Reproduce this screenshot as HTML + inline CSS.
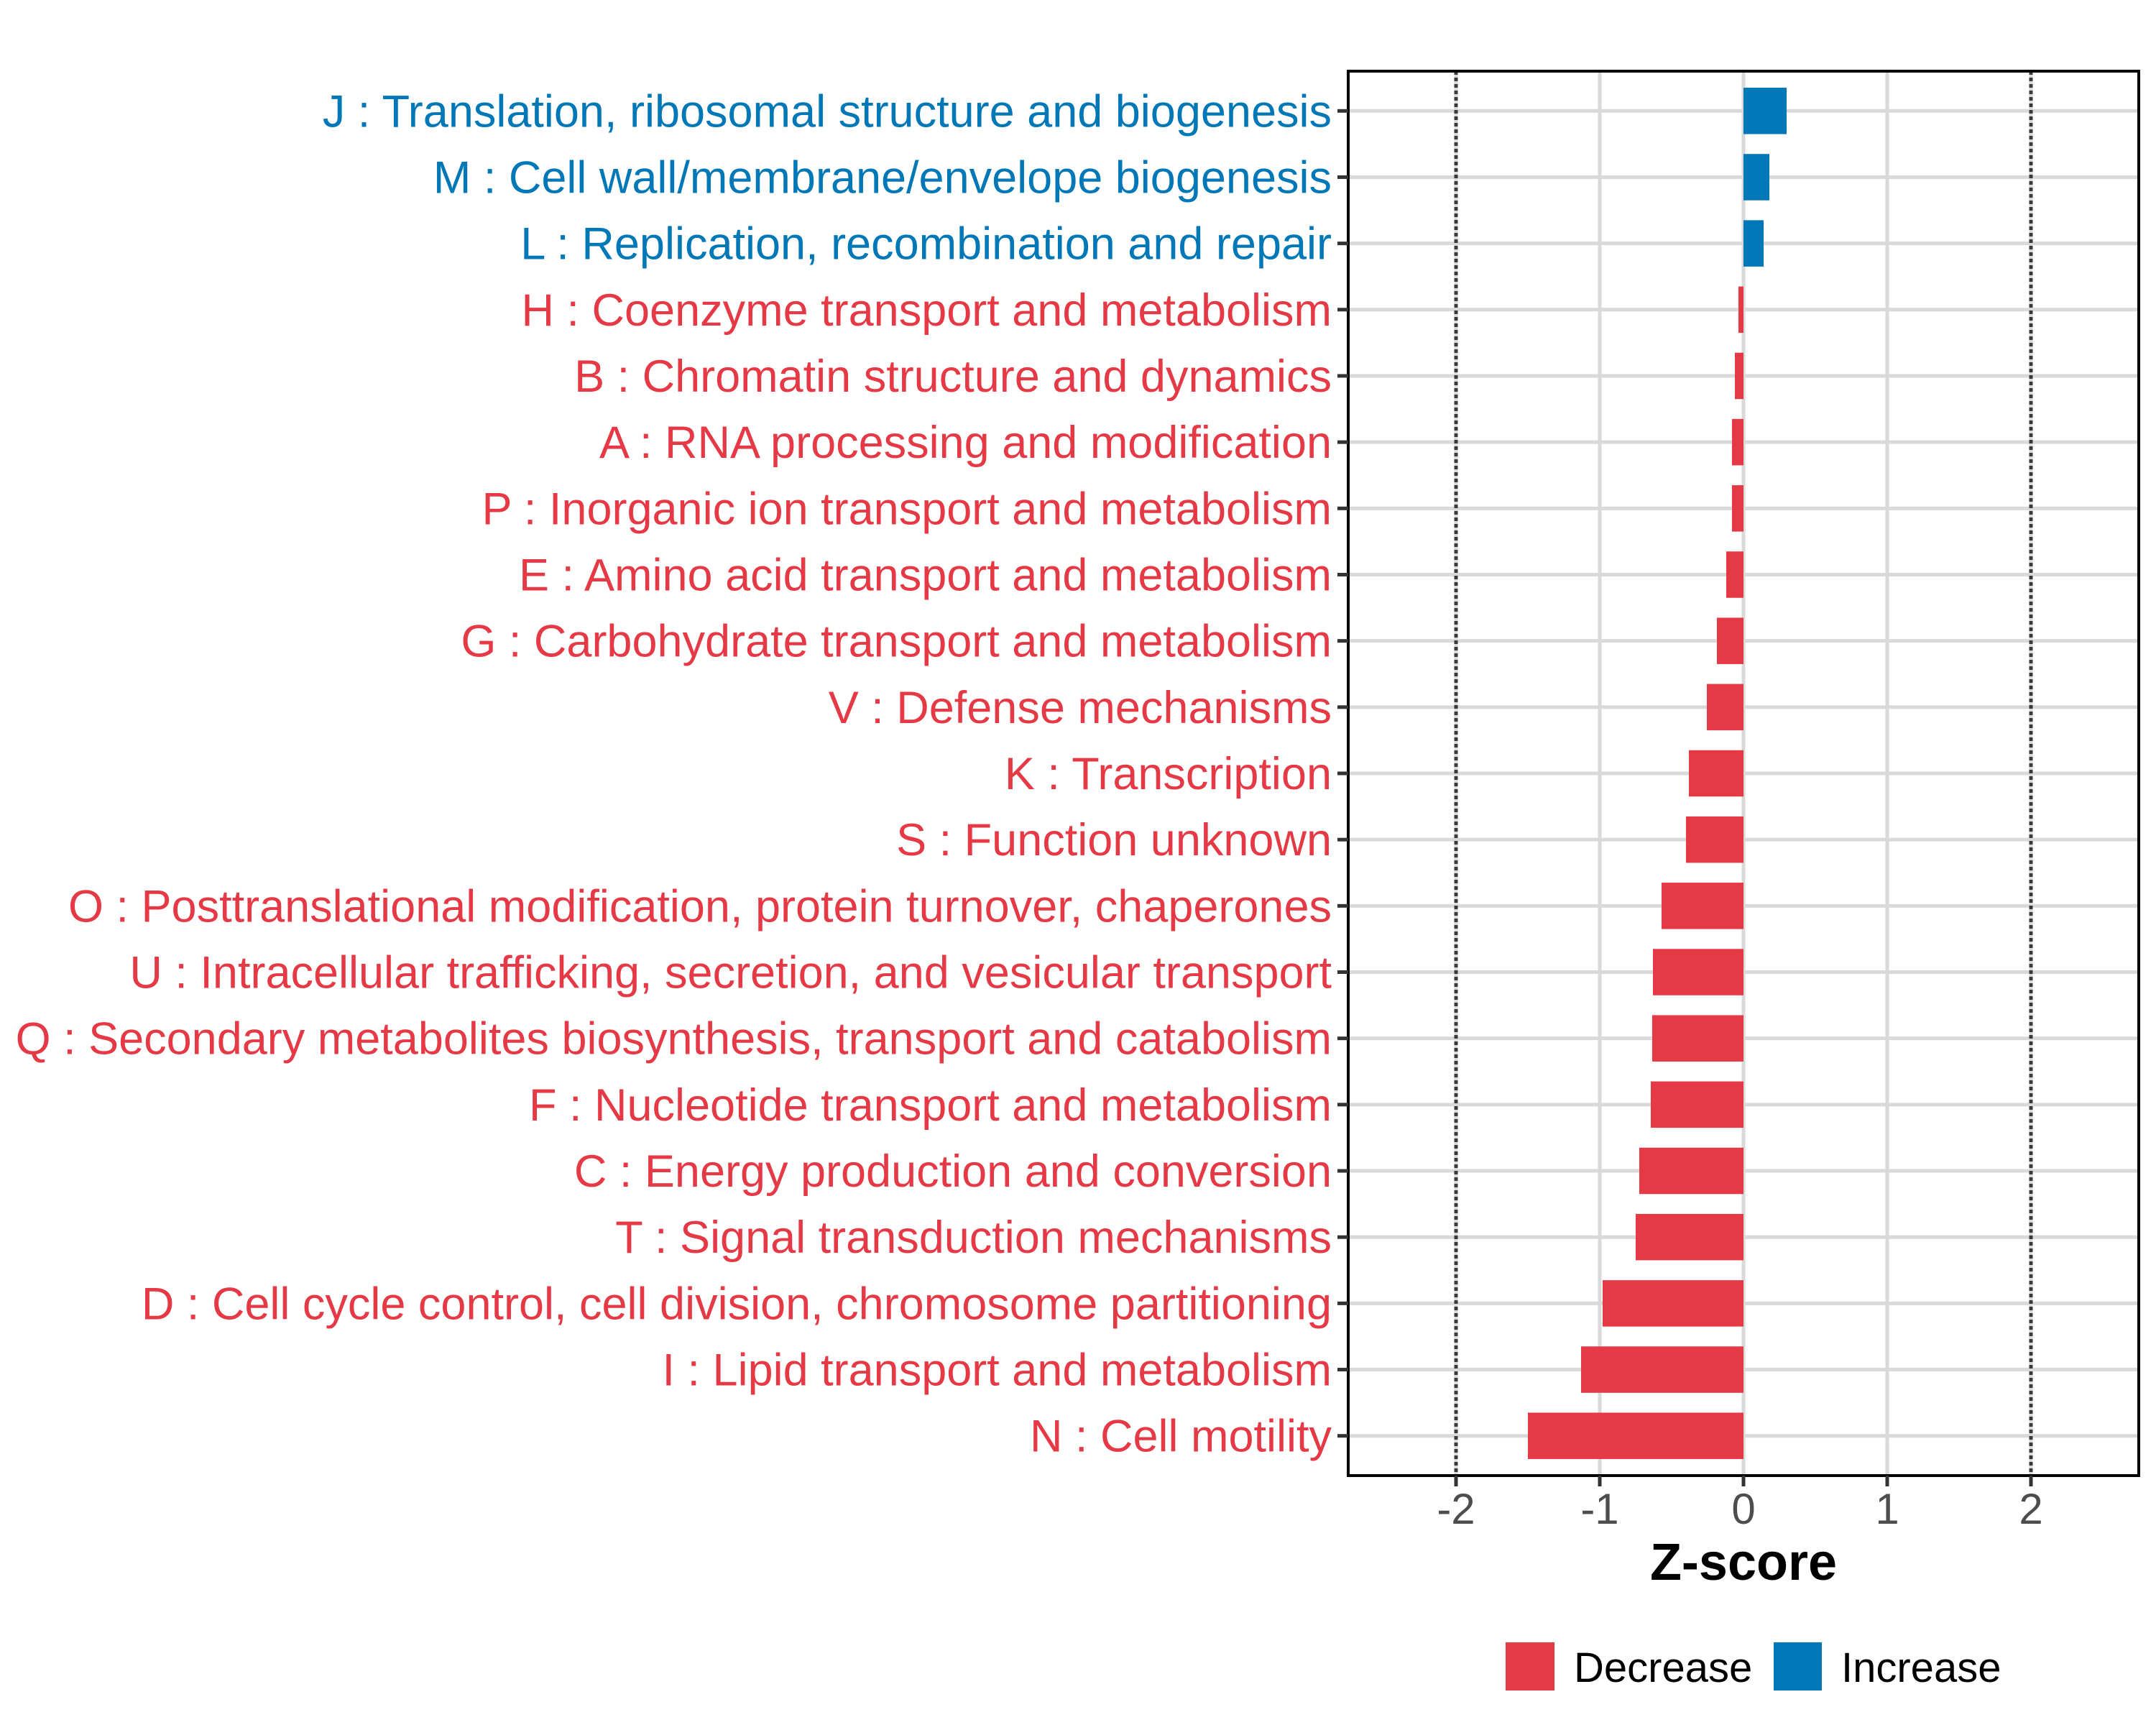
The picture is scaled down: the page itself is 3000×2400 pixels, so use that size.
<!DOCTYPE html>
<html><head><meta charset="utf-8"><style>
html,body{margin:0;padding:0;background:#fff;}
svg{display:block;font-family:"Liberation Sans",Arial,sans-serif;}
</style></head><body>
<svg id="chart" width="3000" height="2400" viewBox="0 0 3000 2400" xmlns="http://www.w3.org/2000/svg">
<rect x="0" y="0" width="3000" height="2400" fill="#fff"/>
<g id="grid"></g>
<g id="bars"></g>
<g id="labels"></g>
<g id="xticks"></g>
<text x="2426" y="2198" font-size="72" font-weight="bold" text-anchor="middle" fill="#000">Z-score</text>
<g>
<rect x="2095" y="2285" width="68" height="67" fill="#E63946"/>
<text x="2190" y="2340" font-size="58" fill="#000">Decrease</text>
<rect x="2468" y="2285" width="67" height="67" fill="#0077B6"/>
<text x="2562" y="2340" font-size="58" fill="#000">Increase</text>
</g>
</svg>
<script>
const categories = ["J : Translation, ribosomal structure and biogenesis","M : Cell wall/membrane/envelope biogenesis","L : Replication, recombination and repair","H : Coenzyme transport and metabolism","B : Chromatin structure and dynamics","A : RNA processing and modification","P : Inorganic ion transport and metabolism","E : Amino acid transport and metabolism","G : Carbohydrate transport and metabolism","V : Defense mechanisms","K : Transcription","S : Function unknown","O : Posttranslational modification, protein turnover, chaperones","U : Intracellular trafficking, secretion, and vesicular transport","Q : Secondary metabolites biosynthesis, transport and catabolism","F : Nucleotide transport and metabolism","C : Energy production and conversion","T : Signal transduction mechanisms","D : Cell cycle control, cell division, chromosome partitioning","I : Lipid transport and metabolism","N : Cell motility"];
const zscores = [0.30,0.18,0.14,-0.035,-0.06,-0.08,-0.08,-0.12,-0.185,-0.255,-0.38,-0.40,-0.57,-0.63,-0.635,-0.645,-0.725,-0.75,-0.98,-1.13,-1.50];
const xTicks = [-2,-1,0,1,2];
const xTickLabels = ["-2","-1","0","1","2"];
const refLines = [-2,2];

const NS="http://www.w3.org/2000/svg";
const PL=1876, PR=2976, PT=99, PB=2053;
const XMIN=-2.75, XMAX=2.75;
function xs(v){return PL+(v-XMIN)/(XMAX-XMIN)*(PR-PL);}
const n=categories.length;
const step=(PB-PT)/(n-1+1.2);
function ys(i){return PT+step*(0.6+i);}
function mk(tag,attrs,parent){const e=document.createElementNS(NS,tag);for(const k in attrs)e.setAttribute(k,attrs[k]);parent.appendChild(e);return e;}

const grid=document.getElementById('grid');
xTicks.forEach((t,i)=>{
  const l=mk('line',{x1:xs(t),x2:xs(t),y1:PT,y2:PB,stroke:'#d9d9d9','stroke-width':5},grid);
  
  
});
categories.forEach((c,i)=>{
  const l=mk('line',{x1:PL,x2:PR,y1:ys(i),y2:ys(i),stroke:'#d9d9d9','stroke-width':5},grid);
  
  
});
refLines.forEach(r=>{
  const l=mk('line',{x1:xs(r),x2:xs(r),y1:PT,y2:PB,stroke:'#3a3a3a','stroke-width':5,'stroke-dasharray':'5 4'},grid);
  
  
});

const bars=document.getElementById('bars');
const bh=step*0.7;
zscores.forEach((v,i)=>{
  const x0=Math.min(xs(0),xs(v)), w=Math.abs(xs(v)-xs(0));
  const r=mk('rect',{x:x0,y:ys(i)-bh/2,width:w,height:bh,fill:v>=0?'#0077B6':'#E63946'},bars);
  
  
});
const frame=mk('rect',{x:PL,y:PT,width:PR-PL,height:PB-PT,fill:'none',stroke:'#000','stroke-width':4},bars);



const labels=document.getElementById('labels');
categories.forEach((c,i)=>{
  const t=mk('text',{x:1853,y:ys(i)+22,'font-size':63,'text-anchor':'end',fill:zscores[i]>=0?'#0077B6':'#E63946'},labels);
  t.textContent=c;
  
  
  const tk=mk('line',{x1:PL-15,x2:PL,y1:ys(i),y2:ys(i),stroke:'#333','stroke-width':5},labels);
  
  
});

const xt=document.getElementById('xticks');
xTicks.forEach((t,i)=>{
  const tk=mk('line',{x1:xs(t),x2:xs(t),y1:PB,y2:PB+15,stroke:'#333','stroke-width':5},xt);
  
  
  const lb=mk('text',{x:xs(t),y:2120,'font-size':60,'text-anchor':'middle',fill:'#4d4d4d'},xt);
  lb.textContent=xTickLabels[i];
  
  
});
</script>
</body></html>
